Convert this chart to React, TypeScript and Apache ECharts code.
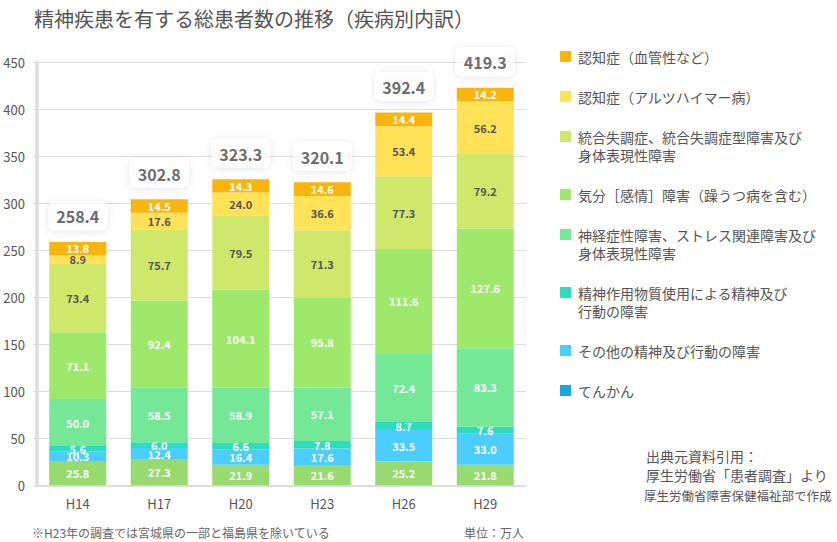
import React, { useEffect, useRef } from "react";
import * as echarts from "echarts";

const FONT = '"Noto Sans CJK JP", "Noto Sans", sans-serif';

const categories = ["H14", "H17", "H20", "H23", "H26", "H29"];

// stack order: bottom -> top
const epilepsy = [25.8, 27.3, 21.9, 21.6, 25.2, 21.8];
const otherDisorders = [10.3, 12.4, 16.4, 17.6, 33.5, 33.0];
const substance = [5.6, 6.0, 6.6, 7.8, 8.7, 7.6];
const neurotic = [50.0, 58.5, 58.9, 57.1, 72.4, 83.3];
const mood = [71.1, 92.4, 104.1, 95.8, 111.6, 127.6];
const schizo = [73.4, 75.7, 79.5, 71.3, 77.3, 79.2];
const alzheimer = [8.9, 17.6, 24.0, 36.6, 53.4, 56.2];
const vascular = [13.8, 14.5, 14.3, 14.6, 14.4, 14.2];

const totals = [258.4, 302.8, 323.3, 320.1, 392.4, 419.3];

const yTicks = { min: 0, max: 450, interval: 50 };

const seriesDefs = [
  { name: "てんかん", data: epilepsy, color: "#97DA6F", legendColor: "#1CA5E0", labelColor: "#fff" },
  { name: "その他の精神及び行動の障害", data: otherDisorders, color: "#4BCDFD", legendColor: "#4BCDFD", labelColor: "#fff" },
  { name: "精神作用物質使用による精神及び\n行動の障害", data: substance, color: "#2DDBBF", legendColor: "#2DDBBF", labelColor: "#fff" },
  { name: "神経症性障害、ストレス関連障害及び\n身体表現性障害", data: neurotic, color: "#74E897", legendColor: "#74E897", labelColor: "#fff" },
  { name: "気分［感情］障害（躁うつ病を含む）", data: mood, color: "#9EE96B", legendColor: "#9EE96B", labelColor: "#fff" },
  { name: "統合失調症、統合失調症型障害及び\n身体表現性障害", data: schizo, color: "#CFE86B", legendColor: "#CFE86B", labelColor: "#555" },
  { name: "認知症（アルツハイマー病）", data: alzheimer, color: "#FFE257", legendColor: "#FFE257", labelColor: "#555" },
  { name: "認知症（血管性など）", data: vascular, color: "#F7B50D", legendColor: "#F7B50D", labelColor: "#fff" },
];

const footnote = "※H23年の調査では宮城県の一部と福島県を除いている";
const unitText = "単位：万人";
const sourceLines = ["出典元資料引用：", "厚生労働省「患者調査」より", "厚生労働省障害保健福祉部で作成"];

export default function App() {
  const ref = useRef<HTMLDivElement>(null);

  useEffect(() => {
    if (!ref.current) return;
    const chart = echarts.init(ref.current, undefined, { renderer: "svg" });

    const stackTops = categories.map((_, i) =>
      seriesDefs.reduce((s, d) => s + d.data[i], 0)
    );

    const legendItems = [...seriesDefs].reverse();
    const legendGraphics: any[] = [];
    let y = 48;
    legendItems.forEach((d) => {
      const lines = d.name.split("\n").length;
      legendGraphics.push({
        type: "rect",
        left: 560,
        top: y + 3,
        shape: { width: 11, height: 11 },
        style: { fill: d.legendColor },
      });
      legendGraphics.push({
        type: "text",
        left: 578,
        top: y,
        style: {
          text: d.name,
          fontSize: 14,
          lineHeight: 18,
          fill: "#555",
          fontFamily: FONT,
        },
      });
      y += lines * 18 + 22;
    });

    const option: any = {
      animation: false,
      backgroundColor: "#fff",
      textStyle: { fontFamily: FONT },
      title: {
        text: "精神疾患を有する総患者数の推移（疾病別内訳）",
        left: 29,
        top: 3,
        textStyle: { fontSize: 20, color: "#555", fontWeight: "normal", fontFamily: FONT },
      },
      grid: { left: 37, right: 311, top: 62.3, bottom: 56.7, containLabel: false },
      xAxis: {
        type: "category",
        data: categories,
        axisLine: { show: true, lineStyle: { color: "#ddd", width: 2 } },
        axisTick: { show: false },
        axisLabel: { color: "#555", fontSize: 13, margin: 12, fontFamily: FONT },
      },
      yAxis: {
        type: "value",
        min: yTicks.min,
        max: yTicks.max,
        interval: yTicks.interval,
        axisLine: { show: true, lineStyle: { color: "#ddd", width: 3.5 } },
        axisTick: { show: true, length: 4, lineStyle: { color: "#ddd" } },
        axisLabel: { color: "#555", fontSize: 13, margin: 12, fontFamily: FONT },
        splitLine: { lineStyle: { color: "#ddd", width: 1 } },
      },
      series: [
        ...seriesDefs.map((d) => ({
          name: d.name,
          type: "bar",
          stack: "total",
          barWidth: 57,
          data: d.data,
          itemStyle: { color: d.color },
          label: {
            show: true,
            position: "inside",
            color: d.labelColor,
            fontSize: 11,
            lineHeight: 9,
            fontWeight: "bold",
            fontFamily: FONT,
            formatter: (p: any) => Number(p.value).toFixed(1),
          },
        })),
        {
          name: "total",
          type: "scatter",
          data: stackTops,
          symbolSize: 1,
          itemStyle: { color: "rgba(0,0,0,0)" },
          z: 10,
          label: {
            show: true,
            position: "top",
            distance: 11,
            formatter: (p: any) => totals[p.dataIndex].toFixed(1),
            backgroundColor: "#fff",
            borderRadius: 6,
            padding: [7, 8, 6, 8],
            shadowBlur: 8,
            shadowColor: "rgba(0,0,0,0.13)",
            shadowOffsetY: 1,
            color: "#444",
            fontSize: 16,
            fontWeight: "bold",
            fontFamily: FONT,
          },
        },
      ],
      graphic: [
        ...legendGraphics,
        {
          type: "text",
          left: 32,
          top: 526,
          style: { text: footnote, fontSize: 12, fill: "#666", fontFamily: FONT },
        },
        {
          type: "text",
          left: 464,
          top: 526,
          style: { text: unitText, fontSize: 12, fill: "#666", fontFamily: FONT },
        },
        {
          type: "text",
          left: 646,
          top: 449,
          style: { text: sourceLines[0], fontSize: 14, fill: "#555", fontFamily: FONT },
        },
        {
          type: "text",
          left: 646,
          top: 468,
          style: { text: sourceLines[1], fontSize: 14, fill: "#555", fontFamily: FONT },
        },
        {
          type: "text",
          left: 644,
          top: 489,
          style: { text: sourceLines[2], fontSize: 12.5, fill: "#555", fontFamily: FONT },
        },
      ],
    };

    chart.setOption(option);
    return () => chart.dispose();
  }, []);

  return (
    <div
      ref={ref}
      style={{ position: "fixed", left: 0, top: 0, width: 837, height: 542 }}
    />
  );
}
